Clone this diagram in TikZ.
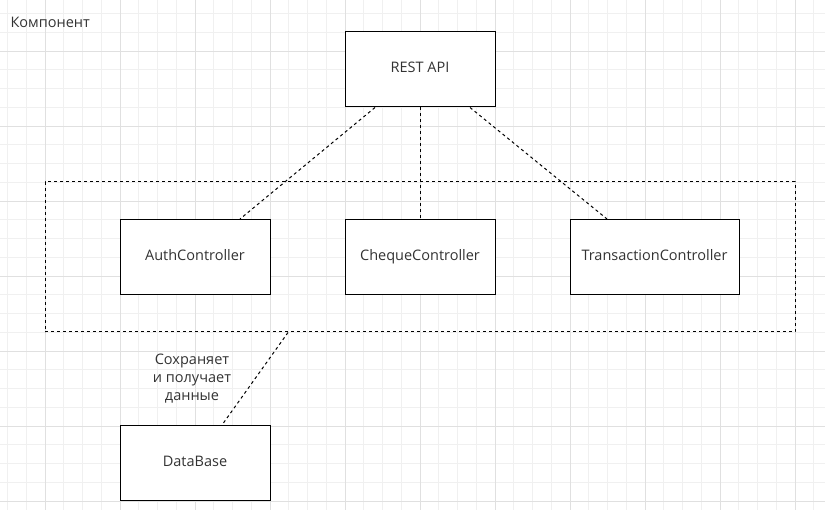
\documentclass[tikz,border=0pt]{standalone}
\usepackage{fontspec}
\setmainfont{Open Sans}
\definecolor{txtgray}{HTML}{333333}
\definecolor{minorgrid}{HTML}{F0F0F0}
\definecolor{majorgrid}{HTML}{E0E0E0}
\begin{document}
\begin{tikzpicture}[
    x=1pt, y=-1pt,
    box/.style={rectangle, draw=black, line width=1pt, minimum width=150pt, minimum height=75pt, text=txtgray, text height=1.6ex, text depth=0.4ex, font=\fontsize{14.5}{17}\selectfont},
    groupbox/.style={rectangle, draw=black, line width=1pt, dash pattern=on 3pt off 3pt, minimum width=750pt, minimum height=150pt},
    link/.style={line width=1pt, dash pattern=on 3pt off 3pt}
]
    \useasboundingbox (0,0) rectangle (825,510);

    % Grid
    \foreach \i in {0,...,43} {
        \draw[minorgrid, line width=0.8pt] (7.5+\i*18.75,0) -- (7.5+\i*18.75,510);
    }
    \foreach \j in {0,...,26} {
        \draw[minorgrid, line width=0.8pt] (0,13.5+\j*18.75) -- (825,13.5+\j*18.75);
    }
    \foreach \i in {0,...,10} {
        \draw[majorgrid, line width=0.8pt] (45+\i*75,0) -- (45+\i*75,510);
    }
    \foreach \j in {0,...,6} {
        \draw[majorgrid, line width=0.8pt] (0,51+\j*75) -- (825,51+\j*75);
    }

    % Nodes
    \node[text=txtgray, font=\fontsize{14.5}{17}\selectfont, anchor=west] (title) at (7,22) {Компонент};
    \node[groupbox] (ctrlgroup) at (420,257) {};
    \node[box, fill=white] (rest) at (420,69.5) {REST API};
    \node[box, fill=white] (auth) at (195,257) {AuthController};
    \node[box, fill=white] (cheque) at (420,257) {ChequeController};
    \node[box, fill=white, minimum width=169pt] (trans) at (654.5,257) {TransactionController};
    \node[box, fill=white] (db) at (195,463) {DataBase};

    % Dashed links
    \draw[link] ([xshift=-45pt]rest.south) -- ([xshift=45pt]auth.north);
    \draw[link] (rest.south) -- (cheque.north);
    \draw[link] ([xshift=50pt]rest.south) -- ([xshift=-47.5pt]trans.north);
    \draw[link] ([xshift=-132pt]ctrlgroup.south) -- ([xshift=27pt]db.north);

    % Label of the database link
    \node[text=txtgray, align=center, font=\fontsize{14.5}{18}\selectfont] (dblabel) at (192,379) {Сохраняет\\и получает\\данные};
\end{tikzpicture}
\end{document}
